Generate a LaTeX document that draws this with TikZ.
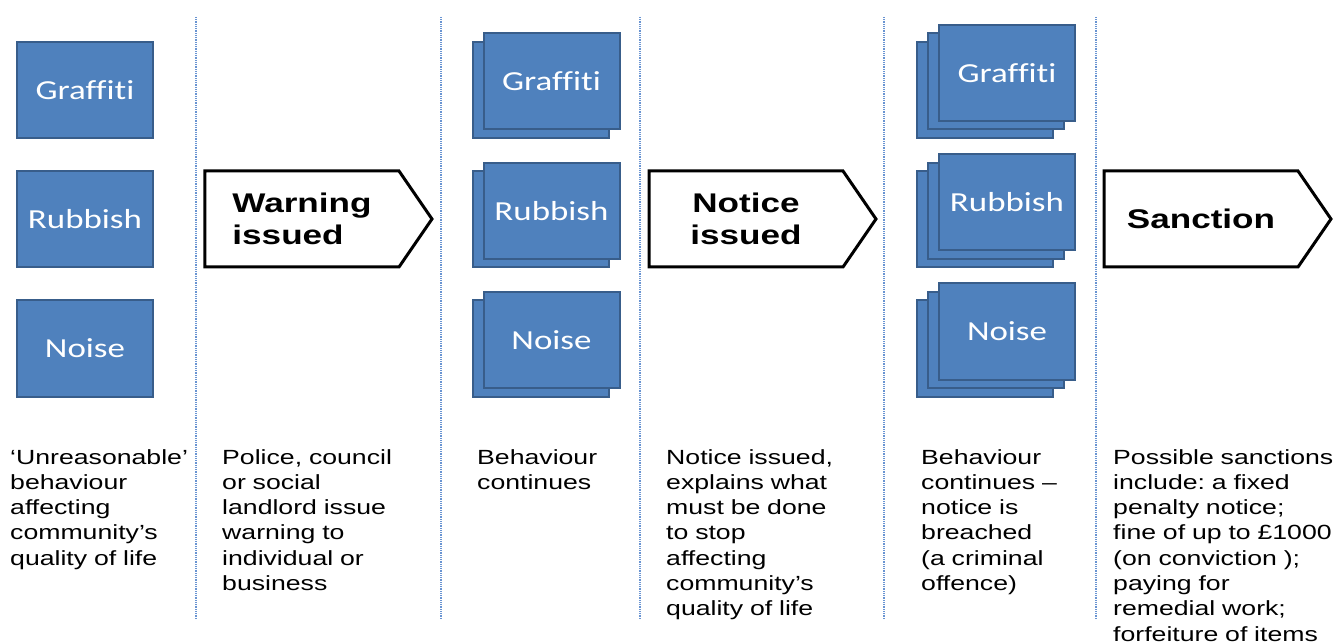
\documentclass[tikz,border=0pt]{standalone}
\usepackage{fontspec}
\setmainfont{Liberation Sans}[FakeStretch=1.3]
\newfontfamily\boxfont{Carlito}[FakeStretch=1.27,Ligatures=NoCommon]
\usetikzlibrary{shapes.symbols}
\definecolor{boxblue}{RGB}{79,129,189}
\definecolor{boxline}{RGB}{56,93,138}
\definecolor{sepblue}{RGB}{105,148,210}
\frenchspacing
\begin{document}
\begin{tikzpicture}[x=1pt,y=-1pt,
    issue/.style={draw=boxline,fill=boxblue,line width=2pt,minimum width=136pt,
      minimum height=96pt,inner sep=0pt,text=white,font=\boxfont\fontsize{27.5}{30}\selectfont},
    stage/.style={draw=black,line width=3pt,fill=white,signal,signal to=east,
      signal pointer angle=111,minimum width=227pt,minimum height=96pt,inner sep=0pt,
      align=left,font=\bfseries\fontsize{27}{32}\selectfont},
    note/.style={anchor=base west,inner sep=0pt,text width=240pt,align=left,
      font=\fontsize{20.5}{25.3}\selectfont}]
    \useasboundingbox (0,0) rectangle (1339,644);
    \foreach \x in {196,441,640,884,1096}
      \draw[sepblue,line width=1.2pt,dash pattern=on 1pt off 0.8pt] (\x,17) -- (\x,619);

    \node[issue] (g1) at (85,90) {Graffiti};
    \node[issue] (r1) at (85,219.5) {Rubbish};
    \node[issue] (n1) at (85,348.5) {Noise};

    \node[issue] (g2b) at (540.5,90) {};
    \node[issue] (g2) at ([shift={(11,-8.5)}]g2b) {Graffiti};
    \node[issue] (r2b) at (540.5,219.5) {};
    \node[issue] (r2) at ([shift={(11,-8.5)}]r2b) {Rubbish};
    \node[issue] (n2b) at (540.5,348.5) {};
    \node[issue] (n2) at ([shift={(11,-8.5)}]n2b) {Noise};

    \node[issue] (g3c) at (984.5,90) {};
    \node[issue] (g3b) at ([shift={(11.25,-8.5)}]g3c) {};
    \node[issue] (g3) at ([shift={(11.25,-8.5)}]g3b) {Graffiti};
    \node[issue] (r3c) at (984.5,219.5) {};
    \node[issue] (r3b) at ([shift={(11.25,-8.5)}]r3c) {};
    \node[issue] (r3) at ([shift={(11.25,-8.5)}]r3b) {Rubbish};
    \node[issue] (n3c) at (984.5,348.5) {};
    \node[issue] (n3b) at ([shift={(11.25,-8.5)}]n3c) {};
    \node[issue] (n3) at ([shift={(11.25,-8.5)}]n3b) {Noise};

    \node[stage] (warn) at (302,219) {Warning\\issued};
    \node[stage,align=center] (notice) at (746,219) {Notice\\issued};
    \node[stage] (sanction) at (1201,219) {Sanction};

    \node[note] (t1) at (10,464) {‘Unreasonable’\\behaviour\\affecting\\community’s\\quality of life};
    \node[note] (t2) at (222,464) {Police, council\\or social\\landlord issue\\warning to\\individual or\\business};
    \node[note] (t3) at (477,464) {Behaviour\\continues};
    \node[note] (t4) at (666,464) {Notice issued,\\explains what\\must be done\\to stop\\affecting\\community’s\\quality of life};
    \node[note] (t5) at (921,464) {Behaviour\\continues –\\notice is\\breached\\(a criminal\\offence)};
    \node[note] (t6) at (1113,464) {Possible sanctions\\include: a fixed\\penalty notice;\\fine of up to £1000\\(on conviction );\\paying for\\remedial work;\\forfeiture of items};
\end{tikzpicture}
\end{document}
